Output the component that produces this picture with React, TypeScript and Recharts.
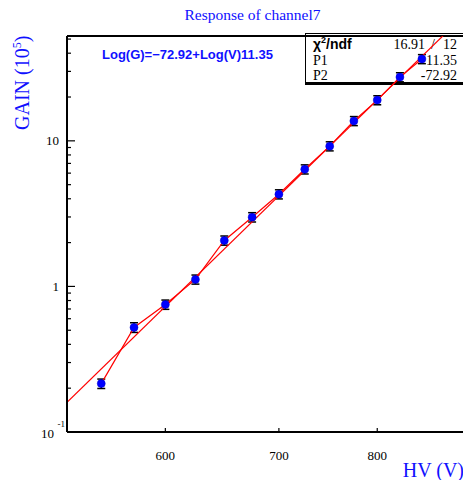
import React from 'react';
import { ComposedChart, XAxis, YAxis, Line, Scatter, ErrorBar, ReferenceLine } from 'recharts';

const hvValues = [550, 575, 600, 625, 650, 675, 700, 725, 750, 775, 800, 825, 850];
const gainValues = [0.215, 0.523, 0.751, 1.117, 2.07, 2.99, 4.3, 6.38, 9.19, 13.7, 19.05, 27.4, 36.5];
const gainErrors = [0.016, 0.04, 0.055, 0.08, 0.15, 0.22, 0.31, 0.46, 0.66, 0.98, 1.36, 1.96, 2.6];
const fitHV = [525, 900];
const fitGain = [0.16, 72.8];
const xTicks = [600, 700, 800];
const yMajorTicks = [0.1, 1, 10];
const yTicks = [0.1, 0.2, 0.3, 0.4, 0.5, 0.6, 0.7, 0.8, 0.9, 1, 2, 3, 4, 5, 6, 7, 8, 9, 10, 20, 30, 40, 50];
const xDomain = [525, 900];
const yDomain = [0.1, 52.5];
const statLabels = ['P1', 'P2'];
const statValues = ['11.35', '-72.92'];
const chiValue = '16.91';
const ndfValue = '12';

const points = hvValues.map((hv, i) => ({ hv, gain: gainValues[i], err: gainErrors[i] }));
const fitData = fitHV.map((hv, i) => ({ hv, fit: fitGain[i] }));

const SERIF = '"Liberation Serif", "Times New Roman", serif';
const SANS = '"Liberation Sans", Arial, sans-serif';
const BLUE = '#1010ff';

const YTick = (props: any) => {
  const { x, y, payload } = props;
  const v = payload.value;
  const major = yMajorTicks.includes(v);
  let label: any = null;
  if (major) {
    if (v === 0.1) {
      label = (
        <g>
          <text x={x - 13} y={y + 6} textAnchor="end" fontFamily={SERIF} fontSize={13} fill="#000">10</text>
          <text x={x - 9.5} y={y - 5} textAnchor="start" fontFamily={SERIF} fontSize={9} fill="#000">-1</text>
        </g>
      );
    } else {
      label = (
        <text x={x - 8} y={y + 4.5} textAnchor="end" fontFamily={SERIF} fontSize={13} fill="#000">{v}</text>
      );
    }
  }
  return (
    <g>
      <line x1={x} x2={x + (major ? 8 : 4)} y1={y} y2={y} stroke="#000" strokeWidth={1.2} />
      {label}
    </g>
  );
};

const XTick = (props: any) => {
  const { x, y, payload } = props;
  return (
    <g>
      <line x1={x} x2={x} y1={y} y2={y - 4} stroke="#000" strokeWidth={1.2} />
      <text x={x} y={y + 27.5} textAnchor="middle" fontFamily={SERIF} fontSize={13} fill="#000">{payload.value}</text>
    </g>
  );
};

const Dot = (props: any) => {
  const { cx, cy } = props;
  return <circle cx={cx} cy={cy} r={4} fill="#0000ff" stroke="#0000cc" strokeWidth={0.5} />;
};

export default function App() {
  return (
    <div style={{ position: 'absolute', left: 0, top: 0, width: 463, height: 480, overflow: 'hidden', background: '#fff' }}>
      <div
        style={{
          position: 'absolute',
          left: 305,
          top: 33,
          width: 170,
          height: 48,
          borderTop: '1.5px solid #000',
          borderLeft: '1.5px solid #000',
          borderBottom: '3px solid #000',
          background: '#fff',
          zIndex: 0,
        }}
      />
      <svg width={463} height={480} style={{ position: 'absolute', left: 0, top: 0, zIndex: 0 }}>
        <text x={313} y={49} fontFamily={SANS} fontWeight="bold" fontSize={14} fill="#000">
          χ<tspan fontSize={9} dy={-6}>2</tspan><tspan dy={6}>/ndf</tspan>
        </text>
        <text x={425} y={49} textAnchor="end" fontFamily={SERIF} fontSize={14} fill="#000">{chiValue}</text>
        <text x={433} y={49} textAnchor="middle" fontFamily={SERIF} fontSize={14} fill="#000">/</text>
        <text x={457} y={49} textAnchor="end" fontFamily={SERIF} fontSize={14} fill="#000">{ndfValue}</text>
        {statLabels.map((l, i) => (
          <g key={l}>
            <text x={313} y={65 + i * 15} fontFamily={SERIF} fontSize={14} fill="#000">{l}</text>
            <text x={457} y={65 + i * 15} textAnchor="end" fontFamily={SERIF} fontSize={14} fill="#000">{statValues[i]}</text>
          </g>
        ))}
      </svg>
      <div style={{ position: 'absolute', left: 0, top: 0, zIndex: 1 }}>
        <ComposedChart width={464} height={480} margin={{ top: 36, right: 0, bottom: 0, left: 0 }} data={points}>
          <XAxis
            dataKey="hv"
            type="number"
            scale="log"
            domain={xDomain}
            allowDataOverflow
            ticks={xTicks}
            interval={0}
            height={48}
            tickSize={0}
            tickMargin={0}
            tickLine={false}
            axisLine={{ stroke: '#000', strokeWidth: 2 }}
            tick={<XTick />}
          />
          <YAxis
            type="number"
            scale="log"
            domain={yDomain}
            allowDataOverflow
            ticks={yTicks}
            interval={0}
            width={67}
            tickSize={0}
            tickMargin={0}
            tickLine={false}
            axisLine={{ stroke: '#000', strokeWidth: 2 }}
            tick={<YTick />}
          />
          <ReferenceLine y={yDomain[1]} stroke="#000" strokeWidth={2} />
          <Scatter data={points} dataKey="gain" shape={<Dot />} isAnimationActive={false}>
            <ErrorBar dataKey="err" direction="y" width={4} stroke="#000" strokeWidth={1.5} />
          </Scatter>
          <Line data={points} dataKey="gain" type="linear" stroke="#ff0000" strokeWidth={1.2} dot={false} isAnimationActive={false} />
          <Line data={fitData} dataKey="fit" type="linear" stroke="#ff0000" strokeWidth={1.2} dot={false} isAnimationActive={false} />
        </ComposedChart>
      </div>
      <svg width={463} height={480} style={{ position: 'absolute', left: 0, top: 0, zIndex: 2, pointerEvents: 'none' }}>
        <text x={252.5} y={19.5} textAnchor="middle" fontFamily={SERIF} fontSize={15.5} fill={BLUE}>Response of channel7</text>
        <text x={102} y={59} fontFamily={SANS} fontWeight="bold" fontSize={13} fill={BLUE}>Log(G)=−72.92+Log(V)11.35</text>
        <text x={464} y={477} textAnchor="end" fontFamily={SERIF} fontSize={20} fill={BLUE}>HV (V)</text>
        <text
          x={29}
          y={130}
          transform="rotate(-90, 29, 130)"
          textAnchor="start"
          fontFamily={SERIF}
          fontSize={20}
          fill={BLUE}
        >
          GAIN (10<tspan fontSize={12} dy={-8}>5</tspan><tspan dy={8}>)</tspan>
        </text>
      </svg>
    </div>
  );
}
